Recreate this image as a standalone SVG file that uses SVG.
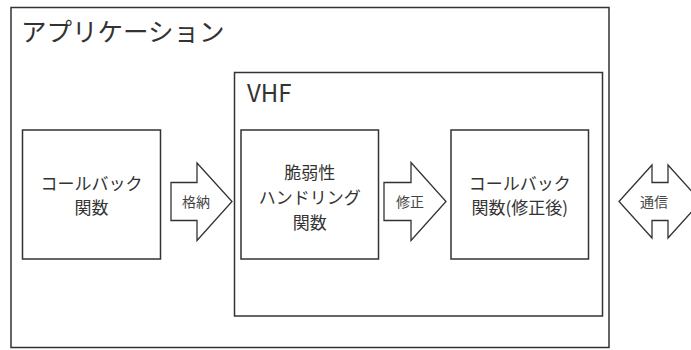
<svg xmlns="http://www.w3.org/2000/svg" width="691" height="350" viewBox="0 0 691 350">
<style>
.box{fill:#fff;stroke:#333;stroke-width:1.5}
.cont{fill:none;stroke:#333;stroke-width:1.5}
.arr{fill:#fff;stroke:#333;stroke-width:1.3;stroke-linejoin:miter}
text{font-family:"Noto Sans CJK JP","Noto Sans",sans-serif;fill:#333}
.big{font-size:25.5px}
.mid{font-size:17px;text-anchor:middle;dominant-baseline:central}
.sm{font-size:14px;text-anchor:middle;dominant-baseline:central;fill:#444}
</style>
<rect width="691" height="350" fill="#fff"/>
<g id="app">
<rect class="cont" x="11" y="7.5" width="598" height="340"/>
<text class="big" x="21" y="41">アプリケーション</text>
</g>
<g id="vhf">
<rect class="cont" x="234.5" y="72.5" width="368" height="243.5"/>
<text x="247" y="102" style="font-size:24px">VHF</text>
</g>
<g id="callback">
<rect class="box" x="22.5" y="130" width="138" height="129"/>
<text class="mid" x="91.5" y="182.5">コールバック</text>
<text class="mid" x="91.5" y="206">関数</text>
</g>
<g id="handling">
<rect class="box" x="241" y="130" width="137.5" height="129"/>
<text class="mid" x="309.75" y="171">脆弱性</text>
<text class="mid" x="309.75" y="196">ハンドリング</text>
<text class="mid" x="309.75" y="221">関数</text>
</g>
<g id="callback-fixed">
<rect class="box" x="451" y="130" width="137.5" height="129"/>
<text class="mid" x="519.75" y="182">コールバック</text>
<text class="mid" x="519.75" y="206.5">関数(修正後)</text>
</g>
<g id="connectors">
<g id="store">
<polygon class="arr" points="171,182.5 197,182.5 197,163 232,201.5 197,240.5 197,220.5 171,220.5"/>
<text class="sm" x="196" y="200.5">格納</text>
</g>
<g id="fix">
<polygon class="arr" points="384,182.5 411,182.5 411,162.5 446,201.5 411,240.5 411,220.5 384,220.5"/>
<text class="sm" x="410" y="200.5">修正</text>
</g>
<g id="comm">
<polygon class="arr" points="619,201.5 652,165 652,182.5 668,182.5 668,165 701,201.5 668,238 668,220.5 652,220.5 652,238"/>
<text class="sm" x="654" y="201">通信</text>
</g>
</g>
</svg>
